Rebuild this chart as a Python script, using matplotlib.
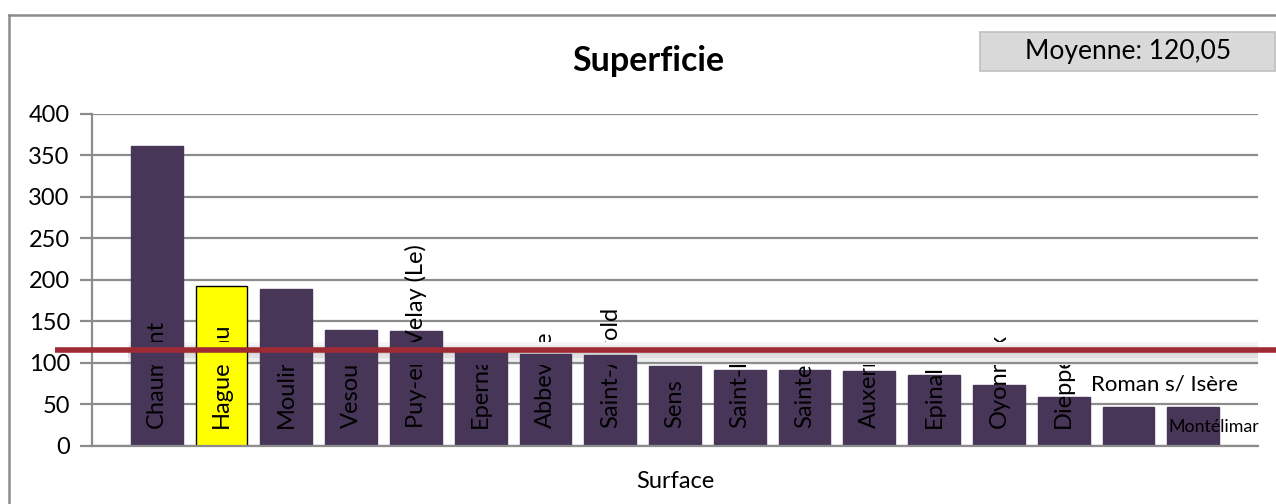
import matplotlib
matplotlib.use("Agg")
import matplotlib.pyplot as plt
from matplotlib.patches import Rectangle
from matplotlib.lines import Line2D
import matplotlib.transforms as mtransforms

plt.rcParams["font.family"] = ["Lato", "DejaVu Sans"]

# data
villes = ["Chaumont", "Haguenau", "Moulins", "Vesoul", "Puy-en-Velay (Le)",
          "Epernay", "Abbeville", "Saint-Avold", "Sens", "Saint-Lô", "Saintes",
          "Auxerre", "Epinal", "Oyonnax", "Dieppe", "Roman s/ Isère", "Montélimar"]
superficie = [362, 193, 189, 140, 138, 115, 110, 109, 96, 91, 91, 90, 85, 73,
              59, 47, 47]
moyenne_label = "Moyenne: 120,05"
ligne_moyenne = 116  # where the red line is drawn on the picture
yticks = [0, 50, 100, 150, 200, 250, 300, 350, 400]

BAR = "#483659"
HIGHLIGHT = "#FFFF00"
RED = "#A02A34"
GRID = "#8C8C8C"

W, H = 1276, 504
fig = plt.figure(figsize=(W / 100, H / 100), dpi=100)
fig.patch.set_facecolor("white")

# outer chart frame (left + top only visible)
fig.add_artist(Line2D([9 / W, 9 / W], [0, 1 - 15 / H], color=GRID, lw=1.8))
fig.add_artist(Line2D([9 / W, 1], [1 - 15 / H, 1 - 15 / H], color=GRID, lw=1.8))

ax = fig.add_axes([92 / W, 1 - 445.7 / H, (1258 - 92) / W, (445.7 - 114) / H])
x = list(range(1, len(villes) + 1))
colors = [HIGHLIGHT if v == "Haguenau" else BAR for v in villes]
edges = ["black" if v == "Haguenau" else BAR for v in villes]
ax.bar(x, superficie, width=0.8, color=colors, edgecolor=edges, linewidth=1.0, zorder=2)

ax.set_xlim(0, 18)
ax.set_ylim(0, 400)
ax.set_yticks(yticks)
ax.set_xticks([])
ax.yaxis.grid(True, color=GRID, lw=1.6, zorder=0)
ax.set_axisbelow(True)
for s in ["top", "right"]:
    ax.spines[s].set_visible(False)
ax.spines["left"].set_color(GRID)
ax.spines["left"].set_linewidth(1.6)
ax.spines["bottom"].set_color(GRID)
ax.spines["bottom"].set_linewidth(1.6)
ax.tick_params(axis="y", length=9, width=1.6, color=GRID, labelsize=17, pad=7)

# rotated labels inside the bars
for xi, v in zip(x[:-2], villes[:-2]):
    ax.text(xi, 21, v, rotation=90, ha="center", va="bottom", fontsize=17,
            color="black", zorder=3)
ax.text(15.42, 74, villes[-2], ha="left", va="center", fontsize=16, zorder=3)
ax.text(16.61, 22, villes[-1], ha="left", va="center", fontsize=12.8, zorder=3)

# shaded band behind the mean line (hides part of the labels)
px = (128 - 92) / 64.8
steps = [(122, 125, "#f6f6f6"), (116, 122, "#ececec"), (111, 116, "#d2d2d2"),
         (106, 111, "#e0e0e0"), (101, 106, "#eeeeee"), (97, 101, "#f8f8f8")]
band = Rectangle((px, 97), 18 - px, 28, transform=ax.transData)
for y0, y1, c in steps:
    ax.add_patch(Rectangle((px, y0), 18 - px, y1 - y0, facecolor=c,
                           edgecolor="none", zorder=4))
ax.axhline(100, xmin=px / 18, color=GRID, lw=1.6, zorder=4.5)
bars_top = ax.bar(x, superficie, width=0.8, color=colors, edgecolor=edges,
                  linewidth=1.0, zorder=5)
for p in bars_top:
    p.set_clip_path(band)

# mean line
trans = mtransforms.blended_transform_factory(ax.transAxes, ax.transData)
ax.plot([(55 - 92) / 1166, (1276 - 92) / 1166], [ligne_moyenne, ligne_moyenne],
        color=RED, lw=4, transform=trans, clip_on=False, zorder=6,
        solid_capstyle="butt")

# title and axis title
fig.text(648 / W, 1 - 61 / H, "Superficie", ha="center", va="center",
         fontsize=24.5, fontweight="bold")
fig.text(675 / W, 1 - 482 / H, "Surface", ha="center", va="center", fontsize=17)

# average box
fig.add_artist(Rectangle((980 / W, 1 - 71 / H), (1275 - 980) / W, 39.5 / H,
                         facecolor="#d9d9d9", edgecolor="#bfbfbf", lw=1.2))
fig.text(1128 / W, 1 - 52 / H, moyenne_label, ha="center", va="center", fontsize=19)

fig.savefig("out.png", dpi=100, facecolor="white")
